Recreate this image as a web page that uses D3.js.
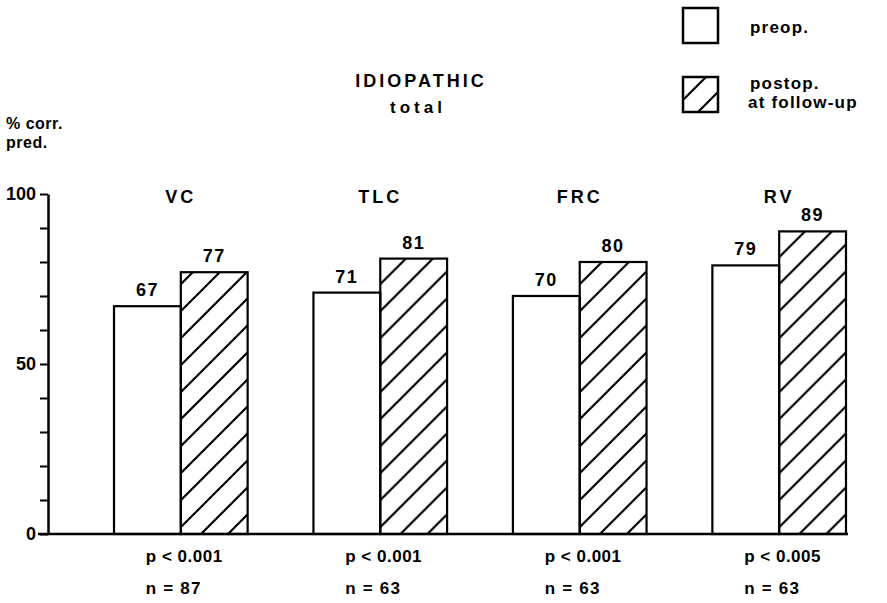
<!DOCTYPE html>
<html>
<head>
<meta charset="utf-8">
<script src="https://cdn.jsdelivr.net/npm/d3@7"></script>
<style>
  body { margin: 0; background: #fff; }
  svg text { font-family: "Liberation Sans", Arial, sans-serif; font-weight: bold; fill: #000; }
</style>
</head>
<body>
<svg id="chart" width="887" height="603"></svg>
<script>
// chart data
const categories = ['VC', 'TLC', 'FRC', 'RV'];
const series = ['preop', 'postop'];
const preopValues = [67, 71, 70, 79];
const postopValues = [77, 81, 80, 89];
const pValues = ['p < 0.001', 'p < 0.001', 'p < 0.001', 'p < 0.005'];
const nValues = ['n = 87', 'n = 63', 'n = 63', 'n = 63'];
const yTicks = [0, 10, 20, 30, 40, 50, 60, 70, 80, 90, 100];
const yLabels = [0, 50, 100];

const svg = d3.select('#chart');

// hatch pattern for the postop bars
const defs = svg.append('defs');
defs.append('pattern')
  .attr('id', 'hatch')
  .attr('patternUnits', 'userSpaceOnUse')
  .attr('width', 27)
  .attr('height', 27)
  .append('path')
  .attr('d', 'M0,27 L27,0 M-7,7 L7,-7 M20,34 L34,20')
  .attr('stroke', '#000')
  .attr('stroke-width', 2.2);

// scales
const x = d3.scaleBand()
  .domain(categories)
  .range([114, 846])
  .paddingInner(0.33)
  .paddingOuter(0);

const xInner = d3.scaleBand()
  .domain(series)
  .range([0, x.bandwidth()]);

const y = d3.scaleLinear()
  .domain([0, 100])
  .range([534, 194]);

// y axis
const yAxis = svg.append('g')
  .attr('transform', 'translate(48,0)')
  .call(d3.axisLeft(y)
    .tickValues(yTicks)
    .tickSize(8)
    .tickSizeOuter(0)
    .tickFormat(d => yLabels.includes(d) ? d : ''));

yAxis.select('.domain').attr('stroke-width', 2.5);
yAxis.selectAll('.tick line').attr('stroke-width', 2);
yAxis.selectAll('.tick text')
  .attr('x', -12)
  .attr('font-size', 18);
yAxis.attr('font-family', null);

// rows of bars
const rows = categories.map((c, i) => ({
  category: c,
  values: [
    { key: 'preop', value: preopValues[i] },
    { key: 'postop', value: postopValues[i] }
  ]
}));

const group = svg.append('g')
  .selectAll('g')
  .data(rows)
  .enter().append('g')
  .attr('transform', d => `translate(${x(d.category)},0)`);

group.selectAll('rect')
  .data(d => d.values)
  .enter().append('rect')
  .attr('x', d => xInner(d.key))
  .attr('y', d => y(d.value))
  .attr('width', xInner.bandwidth())
  .attr('height', d => y(0) - y(d.value))
  .attr('fill', d => d.key === 'postop' ? 'url(#hatch)' : '#fff')
  .attr('stroke', '#000')
  .attr('stroke-width', 2.2);

// value labels
group.selectAll('text.value')
  .data(d => d.values)
  .enter().append('text')
  .attr('class', 'value')
  .attr('x', d => xInner(d.key) + xInner.bandwidth() / 2)
  .attr('y', d => y(d.value) - 10)
  .attr('text-anchor', 'middle')
  .attr('font-size', 18)
  .attr('letter-spacing', 1.5)
  .text(d => d.value);

// category labels
group.append('text')
  .attr('x', x.bandwidth() / 2)
  .attr('y', 203)
  .attr('text-anchor', 'middle')
  .attr('font-size', 18)
  .attr('letter-spacing', 3)
  .text(d => d.category);

// p and n labels under the groups
group.append('text')
  .attr('x', x.bandwidth() / 2 - 35)
  .attr('y', 562)
  .attr('font-size', 17)
  .attr('letter-spacing', 0.5)
  .text((d, i) => pValues[i]);

group.append('text')
  .attr('x', x.bandwidth() / 2 - 35)
  .attr('y', 594)
  .attr('font-size', 17)
  .attr('letter-spacing', 1.2)
  .text((d, i) => nValues[i]);

// baseline
svg.append('line')
  .attr('x1', 38)
  .attr('x2', x.range()[1] + 2)
  .attr('y1', y(0))
  .attr('y2', y(0))
  .attr('stroke', '#000')
  .attr('stroke-width', 2.5);

// titles
svg.append('text')
  .attr('x', 421)
  .attr('y', 87)
  .attr('text-anchor', 'middle')
  .attr('font-size', 18)
  .attr('letter-spacing', 3)
  .text('IDIOPATHIC');

svg.append('text')
  .attr('x', 418)
  .attr('y', 113)
  .attr('text-anchor', 'middle')
  .attr('font-size', 17)
  .attr('letter-spacing', 4)
  .text('total');

svg.append('text')
  .attr('x', 6)
  .attr('y', 129)
  .attr('font-size', 16)
  .attr('letter-spacing', 0.5)
  .text('% corr.');

svg.append('text')
  .attr('x', 6)
  .attr('y', 148)
  .attr('font-size', 16)
  .attr('letter-spacing', 0.5)
  .text('pred.');

// legend
const legend = svg.append('g');
legend.append('rect')
  .attr('x', 683).attr('y', 8)
  .attr('width', 35).attr('height', 35)
  .attr('fill', '#fff')
  .attr('stroke', '#000')
  .attr('stroke-width', 2.5);
legend.append('rect')
  .attr('x', 683).attr('y', 77)
  .attr('width', 35).attr('height', 35)
  .attr('fill', 'url(#hatch)')
  .attr('stroke', '#000')
  .attr('stroke-width', 2.5);
legend.append('text')
  .attr('x', 750).attr('y', 33)
  .attr('font-size', 17)
  .attr('letter-spacing', 1.2)
  .text('preop.');
legend.append('text')
  .attr('x', 750).attr('y', 89)
  .attr('font-size', 17)
  .attr('letter-spacing', 1.2)
  .text('postop.');
legend.append('text')
  .attr('x', 748).attr('y', 108)
  .attr('font-size', 17)
  .attr('letter-spacing', 1.2)
  .text('at follow-up');
</script>
</body>
</html>
